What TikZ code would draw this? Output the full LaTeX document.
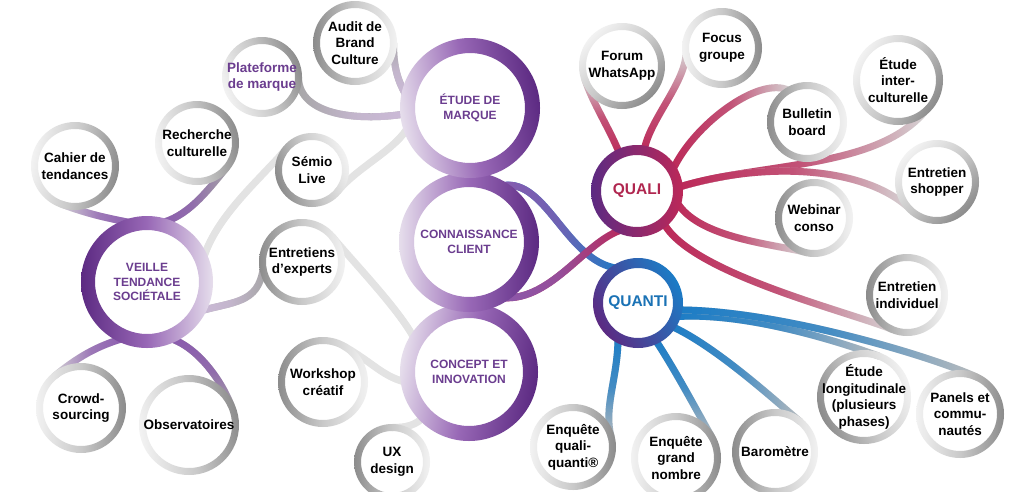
\documentclass[tikz,border=0pt]{standalone}
\usepackage{fontspec}
\setmainfont{Liberation Sans}
\usetikzlibrary{fadings}

\definecolor{hubdark}{HTML}{5C2A82}
\definecolor{hubmid}{HTML}{9868B6}
\definecolor{hublight}{HTML}{E6DEEC}
\definecolor{hubline}{HTML}{8A5AAE}
\definecolor{hubpale}{HTML}{CDBBD9}
\definecolor{txtpurple}{HTML}{6B3D8F}
\definecolor{qualired}{HTML}{BC2858}
\definecolor{qualitxt}{HTML}{B0264F}
\definecolor{qualipurple}{HTML}{5C2A82}
\definecolor{quantiblue}{HTML}{1B7CC6}
\definecolor{quantitxt}{HTML}{1A72B5}
\definecolor{ringlight}{HTML}{F2F2F2}
\definecolor{ringmid}{HTML}{C9C9C9}
\definecolor{ringdark}{HTML}{8C8C8C}
\definecolor{greyA}{HTML}{A6A6A6}
\definecolor{greyB}{HTML}{BDBDBD}
\definecolor{greyC}{HTML}{D6D6D6}
\definecolor{greyD}{HTML}{E3E3E3}

\tikzfading[name=hubfade, left color=transparent!0, right color=transparent!100, middle color=transparent!25]

% node that carries the anchors of a ring: name, x, y, outer radius, thickness
\newcommand\ringnode[5]{\node[hole, minimum size={2*#4-#5}] (#1) at (#2,#3) {};}
% ring drawn round a named node: name, outer radius, thickness, shading
\newcommand\ring[4]{\shade[even odd rule, #4] (#1.center) circle[radius=#2] (#1.center) circle[radius={#2-#3}];}
% grey leaf ring: name, outer radius, shading angle (dark side at angle-90)
\newcommand\leafring[3]{\ring{#1}{#2}{7}{left color=ringlight, right color=ringdark, middle color=ringmid, shading angle=#3}}
% connector: base colour, hub colour, fading angle, path
\newcommand\link[4]{\draw[conn, #1] #4; \draw[conn, #2, path fading=hubfade, fading angle=#3] #4;}

\begin{document}
\begin{tikzpicture}[x=1pt, y=-1pt,
  hole/.style={circle, inner sep=0pt, outer sep=0pt},
  leaftext/.style={align=center, inner sep=0pt, font=\bfseries\fontsize{13.5}{16.5}\selectfont, text=black},
  hubtext/.style={align=center, inner sep=0pt, font=\bfseries\fontsize{12}{14.5}\selectfont, text=txtpurple},
  conn/.style={line width=7pt, line cap=round},
]
\useasboundingbox (0,0) rectangle (1024,491);
\fill[white] (0,0) rectangle (1024,491);

% ---------- anchor nodes ----------
\ringnode{etude}{470}{108}{70}{15}
\ringnode{conn}{469}{242}{70}{15}
\ringnode{concept}{469}{372}{69}{15}
\ringnode{veille}{147}{282}{66}{14}
\ringnode{quali}{637}{191}{46}{10}
\ringnode{quanti}{638}{303}{45}{10}

\ringnode{audit}{355}{43}{42}{7}
\ringnode{plate}{262}{77}{40}{7}
\ringnode{rech}{197}{143}{42}{7}
\ringnode{cahier}{75}{166}{44}{7}
\ringnode{semio}{312}{170}{37}{7}
\ringnode{experts}{302}{262}{43}{7}
\ringnode{crowd}{81}{408}{45}{7}
\ringnode{obs}{189}{425}{50}{7}
\ringnode{workshop}{323}{382}{45}{7}
\ringnode{ux}{392}{462}{38}{7}
\ringnode{forum}{622}{66}{43}{7}
\ringnode{focus}{722}{48}{40}{7}
\ringnode{inter}{898}{80}{45}{7}
\ringnode{bulletin}{807}{122}{40}{7}
\ringnode{shopper}{937}{182}{42}{7}
\ringnode{webinar}{814}{218}{39}{7}
\ringnode{indiv}{907}{295}{41}{7}
\ringnode{eqq}{573}{447}{43}{7}
\ringnode{egn}{676}{458}{45}{7}
\ringnode{baro}{775}{452}{43}{7}
\ringnode{longi}{864}{397}{47}{7}
\ringnode{panels}{960}{414}{44}{7}

% ---------- connectors ----------
% Veille
\link{greyC}{hubline}{180}{(veille.100) .. controls +(-30,-6) and +(30,11) .. (cahier.-110)}
\link{greyA}{hubline}{0}{(veille.80) .. controls +(30,-6) and +(-20,24) .. (rech.-40)}
\link{greyD}{greyD}{90}{(veille.20) .. controls +(12,-45) and +(-25,30) .. (semio.140)}
\link{greyA}{hubpale}{0}{(veille.-30) .. controls +(35,-10) and +(-5,35) .. (experts.190)}
\link{greyC}{hubline}{180}{(veille.250) .. controls +(-30,8) and +(22,-18) .. (crowd.130)}
\link{greyA}{hubline}{270}{(veille.290) .. controls +(30,8) and +(-10,-25) .. (obs.25)}
% Etude de marque
\link{greyA}{hubpale}{90}{(etude.172) .. controls +(-8,-15) and +(0,30) .. (audit.0)}
\link{greyA}{hubpale}{180}{(etude.185) .. controls +(-45,8) and +(0,40) .. (plate.0)}
\link{greyD}{greyD}{180}{(etude.195) .. controls +(-12,25) and +(20,-25) .. (semio.-40)}
% Concept et innovation
\link{greyD}{greyD}{90}{(concept.150) .. controls +(-15,-30) and +(25,30) .. (experts.40)}
\link{greyD}{greyD}{180}{(concept.190) .. controls +(-25,-5) and +(30,17) .. (workshop.60)}
\link{greyD}{greyD}{180}{(concept.225) .. controls +(-10,10) and +(15,0) .. (ux.90)}
% Connaissance client
\link{quantiblue}{hubline}{0}{(conn.62) .. controls (545,172) and (565,262) .. (quanti.120)}
\link{qualired}{hubline}{0}{(conn.-62) .. controls (550,305) and (585,240) .. (quali.-110)}
% Quali
\link{greyC}{qualired}{90}{(quali.115) .. controls +(-10,-25) and +(8,24) .. (forum.200)}
\link{greyC}{qualired}{90}{(quali.80) .. controls +(5,-30) and +(-2,30) .. (focus.190)}
\link{greyC}{qualired}{0}{(quali.30) .. controls +(20,-45) and +(-30,-15) .. (bulletin.120)}
\link{greyC}{qualired}{0}{(quali.5) .. controls (760,162) and (875,170) .. (inter.-50)}
\link{greyC}{qualired}{0}{(quali.5) .. controls (760,162) and (860,165) .. (shopper.220)}
\link{greyC}{qualired}{0}{(quali.-15) .. controls +(20,35) and +(-35,-8) .. (webinar.-110)}
\link{greyC}{qualired}{0}{(quali.-50) .. controls +(25,50) and +(-45,-18) .. (indiv.-115)}
% Quanti
\link{greyB}{quantiblue}{270}{(quanti.-120) .. controls +(0,40) and +(-8,-29) .. (eqq.15)}
\link{greyB}{quantiblue}{270}{(quanti.-65) .. controls +(20,30) and +(-15,-26) .. (egn.30)}
\link{greyB}{quantiblue}{0}{(quanti.-35) .. controls +(45,20) and +(-23,-19) .. (baro.50)}
\link{greyB}{quantiblue}{0}{(quanti.-20) .. controls +(70,-5) and +(-38,-14) .. (longi.70)}
\link{greyB}{quantiblue}{0}{(quanti.-10) .. controls +(100,0) and +(-45,-21) .. (panels.65)}

% ---------- rings ----------
\ring{concept}{69}{15}{left color=hublight, right color=hubdark, middle color=hubmid, shading angle=80}
\ring{conn}{70}{15}{left color=hublight, right color=hubdark, middle color=hubmid, shading angle=90}
\ring{etude}{70}{15}{left color=hublight, right color=hubdark, middle color=hubmid, shading angle=100}
\ring{veille}{66}{14}{left color=hublight, right color=hubdark, middle color=hubmid, shading angle=270}
\ring{quali}{46}{10}{left color=qualipurple, right color=qualired, shading angle=90}
\ring{quanti}{45}{10}{left color=qualipurple, right color=quantiblue, shading angle=120}

\leafring{audit}{42}{270}
\leafring{plate}{40}{110}
\leafring{rech}{42}{100}
\leafring{cahier}{44}{80}
\leafring{semio}{37}{290}
\leafring{experts}{43}{270}
\leafring{crowd}{45}{90}
\leafring{obs}{50}{100}
\leafring{workshop}{45}{270}
\leafring{ux}{38}{270}
\leafring{forum}{43}{45}
\leafring{focus}{40}{90}
\leafring{inter}{45}{60}
\leafring{bulletin}{40}{270}
\leafring{shopper}{42}{45}
\leafring{webinar}{39}{270}
\leafring{indiv}{41}{270}
\leafring{eqq}{43}{90}
\leafring{egn}{45}{90}
\leafring{baro}{43}{270}
\leafring{longi}{47}{290}
\leafring{panels}{44}{90}

% ---------- texts ----------
\node[hubtext] (etude-t) at (etude) {ÉTUDE DE\\MARQUE};
\node[hubtext] (conn-t) at (conn) {CONNAISSANCE\\CLIENT};
\node[hubtext] (concept-t) at (concept) {CONCEPT ET\\INNOVATION};
\node[hubtext] (veille-t) at (veille) {VEILLE\\TENDANCE\\SOCIÉTALE};
\node[hubtext, font=\bfseries\fontsize{15.5}{18}\selectfont, text=qualitxt] (quali-t) at (quali) {QUALI};
\node[hubtext, font=\bfseries\fontsize{15.5}{18}\selectfont, text=quantitxt] (quanti-t) at (quanti) {QUANTI};

\node[leaftext] (audit-t) at (audit) {Audit de\\Brand\\Culture};
\node[leaftext, text=txtpurple] (plate-t) at (plate) {Plateforme\\de marque};
\node[leaftext] (rech-t) at (rech) {Recherche\\culturelle};
\node[leaftext] (cahier-t) at (cahier) {Cahier de\\tendances};
\node[leaftext] (semio-t) at (semio) {Sémio\\Live};
\node[leaftext] (experts-t) at (experts) {Entretiens\\d’experts};
\node[leaftext] (crowd-t) at (crowd) {Crowd-\\sourcing};
\node[leaftext] (obs-t) at (obs) {Observatoires};
\node[leaftext] (workshop-t) at (workshop) {Workshop\\créatif};
\node[leaftext] (ux-t) at (ux) {UX\\design};
\node[leaftext] (forum-t) at (forum) {Forum\\WhatsApp};
\node[leaftext] (focus-t) at (focus) {Focus\\groupe};
\node[leaftext] (inter-t) at (inter) {Étude\\inter-\\culturelle};
\node[leaftext] (bulletin-t) at (bulletin) {Bulletin\\board};
\node[leaftext] (shopper-t) at (shopper) {Entretien\\shopper};
\node[leaftext] (webinar-t) at (webinar) {Webinar\\conso};
\node[leaftext] (indiv-t) at (indiv) {Entretien\\individuel};
\node[leaftext] (eqq-t) at (eqq) {Enquête\\quali-\\quanti®};
\node[leaftext] (egn-t) at (egn) {Enquête\\grand\\nombre};
\node[leaftext] (baro-t) at (baro) {Baromètre};
\node[leaftext] (longi-t) at (longi) {Étude\\longitudinale\\(plusieurs\\phases)};
\node[leaftext] (panels-t) at (panels) {Panels et\\commu-\\nautés};
\end{tikzpicture}
\end{document}
